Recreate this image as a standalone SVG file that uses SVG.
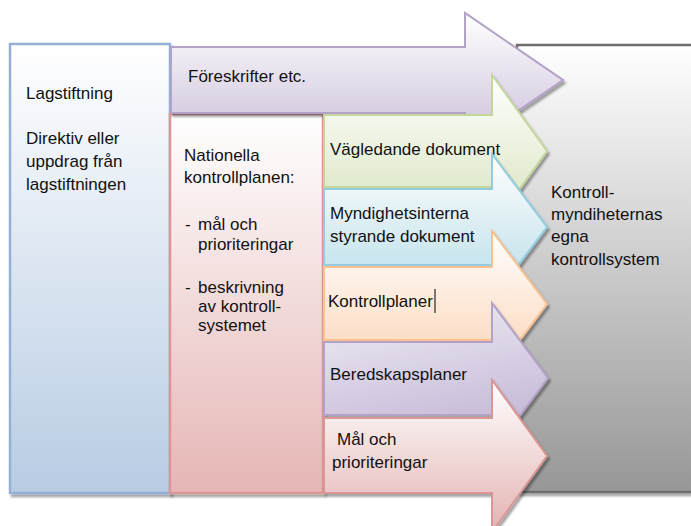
<svg xmlns="http://www.w3.org/2000/svg" width="691" height="526" viewBox="0 0 691 526">
<defs>
<linearGradient id="gGray" x1="0" y1="0" x2="0" y2="1"><stop offset="0" stop-color="#ffffff"/><stop offset="1" stop-color="#979797"/></linearGradient>
<linearGradient id="gBlueBox" x1="0" y1="0" x2="0" y2="1"><stop offset="0" stop-color="#ffffff"/><stop offset="1" stop-color="#b8cce4"/></linearGradient>
<linearGradient id="gPinkBox" x1="0" y1="0" x2="0" y2="1"><stop offset="0" stop-color="#ffffff"/><stop offset="1" stop-color="#e5b6b5"/></linearGradient>
<linearGradient id="gPurple" x1="0" y1="0" x2="0" y2="1"><stop offset="0" stop-color="#ffffff"/><stop offset="1" stop-color="#cabed9"/></linearGradient>
<linearGradient id="gGreen" x1="0" y1="0" x2="0" y2="1"><stop offset="0" stop-color="#ffffff"/><stop offset="1" stop-color="#d6e3bc"/></linearGradient>
<linearGradient id="gCyan" x1="0" y1="0" x2="0" y2="1"><stop offset="0" stop-color="#ffffff"/><stop offset="1" stop-color="#b6dce7"/></linearGradient>
<linearGradient id="gOrange" x1="0" y1="0" x2="0" y2="1"><stop offset="0" stop-color="#ffffff"/><stop offset="1" stop-color="#fbd3b3"/></linearGradient>
<linearGradient id="gPurple2" x1="0" y1="0" x2="0.3" y2="1"><stop offset="0" stop-color="#f0edf5"/><stop offset="1" stop-color="#c4b7d6"/></linearGradient>
<linearGradient id="gPink" x1="0" y1="0" x2="0" y2="1"><stop offset="0" stop-color="#ffffff"/><stop offset="1" stop-color="#e3b3b2"/></linearGradient>
<filter id="sh" x="-5%" y="-5%" width="115%" height="115%"><feDropShadow dx="2" dy="3" stdDeviation="1" flood-color="#000" flood-opacity="0.35"/></filter>
</defs>
<style>
text{font-family:"Liberation Sans",Arial,sans-serif;font-size:17px;fill:#111}
.box{stroke-width:2.5}
.arr{stroke-width:2;stroke-linejoin:miter}
</style>
<rect width="691" height="526" fill="#ffffff"/>

<g id="kontrollsystem">
<rect x="517" y="45" width="190" height="447" fill="url(#gGray)" stroke="#6e6e6e" stroke-width="2.5" filter="url(#sh)"/>
<text x="551" y="198">Kontroll-</text>
<text x="551" y="220">myndiheternas</text>
<text x="551" y="242">egna</text>
<text x="551" y="265">kontrollsystem</text>
</g>

<g id="lagstiftning">
<rect class="box" x="10" y="44" width="160" height="449" fill="url(#gBlueBox)" stroke="#93b1d6" filter="url(#sh)"/>
<text x="26" y="99">Lagstiftning</text>
<text x="26" y="144">Direktiv eller</text>
<text x="26" y="167">uppdrag från</text>
<text x="26" y="190">lagstiftningen</text>
</g>

<g id="nationella">
<rect class="box" x="170" y="114" width="153" height="379" fill="url(#gPinkBox)" stroke="#d99694" filter="url(#sh)"/>
<text x="184" y="161">Nationella</text>
<text x="184" y="183">kontrollplanen:</text>
<text x="185" y="230">-</text><text x="198" y="230">mål och</text>
<text x="198" y="250">prioriteringar</text>
<text x="185" y="293">-</text><text x="198" y="293">beskrivning</text>
<text x="198" y="312">av kontroll-</text>
<text x="198" y="331">systemet</text>
</g>

<g id="foreskrifter">
<polygon class="arr" points="171,47 465,47 465,13 563,80 465,147 465,113 171,113" fill="url(#gPurple)" stroke="#b3a2c7" filter="url(#sh)"/>
<text x="188" y="82">Föreskrifter etc.</text>
</g>

<g id="vagledande">
<polygon class="arr" points="324,115 492,115 492,75 547,151 492,227 492,187 324,187" fill="url(#gGreen)" stroke="#c3d69b" filter="url(#sh)"/>
<text x="330" y="155">Vägledande dokument</text>
</g>

<g id="myndighetsinterna">
<polygon class="arr" points="324,189 492,189 492,154 547,227 492,300 492,265 324,265" fill="url(#gCyan)" stroke="#93cddd" filter="url(#sh)"/>
<text x="330" y="219">Myndighetsinterna</text>
<text x="330" y="242">styrande dokument</text>
</g>

<g id="kontrollplaner">
<polygon class="arr" points="324,267 492,267 492,231 547,304 492,377 492,340 324,340" fill="url(#gOrange)" stroke="#fac090" filter="url(#sh)"/>
<text x="328" y="307">Kontrollplaner</text>
<line x1="435" y1="289" x2="435" y2="313" stroke="#000" stroke-width="1"/>
</g>

<g id="beredskapsplaner">
<polygon class="arr" points="324,342 492,342 492,303 548,378 492,453 492,415 324,415" fill="url(#gPurple2)" stroke="#b3a2c7" filter="url(#sh)"/>
<text x="330" y="380">Beredskapsplaner</text>
</g>

<g id="mal">
<polygon class="arr" points="324,418 492,418 492,380 547,456 492,532 492,493 324,493" fill="url(#gPink)" stroke="#d99694" filter="url(#sh)"/>
<text x="337" y="445">Mål och</text>
<text x="332" y="468">prioriteringar</text>
</g>

<g id="connectors"></g>
</svg>
